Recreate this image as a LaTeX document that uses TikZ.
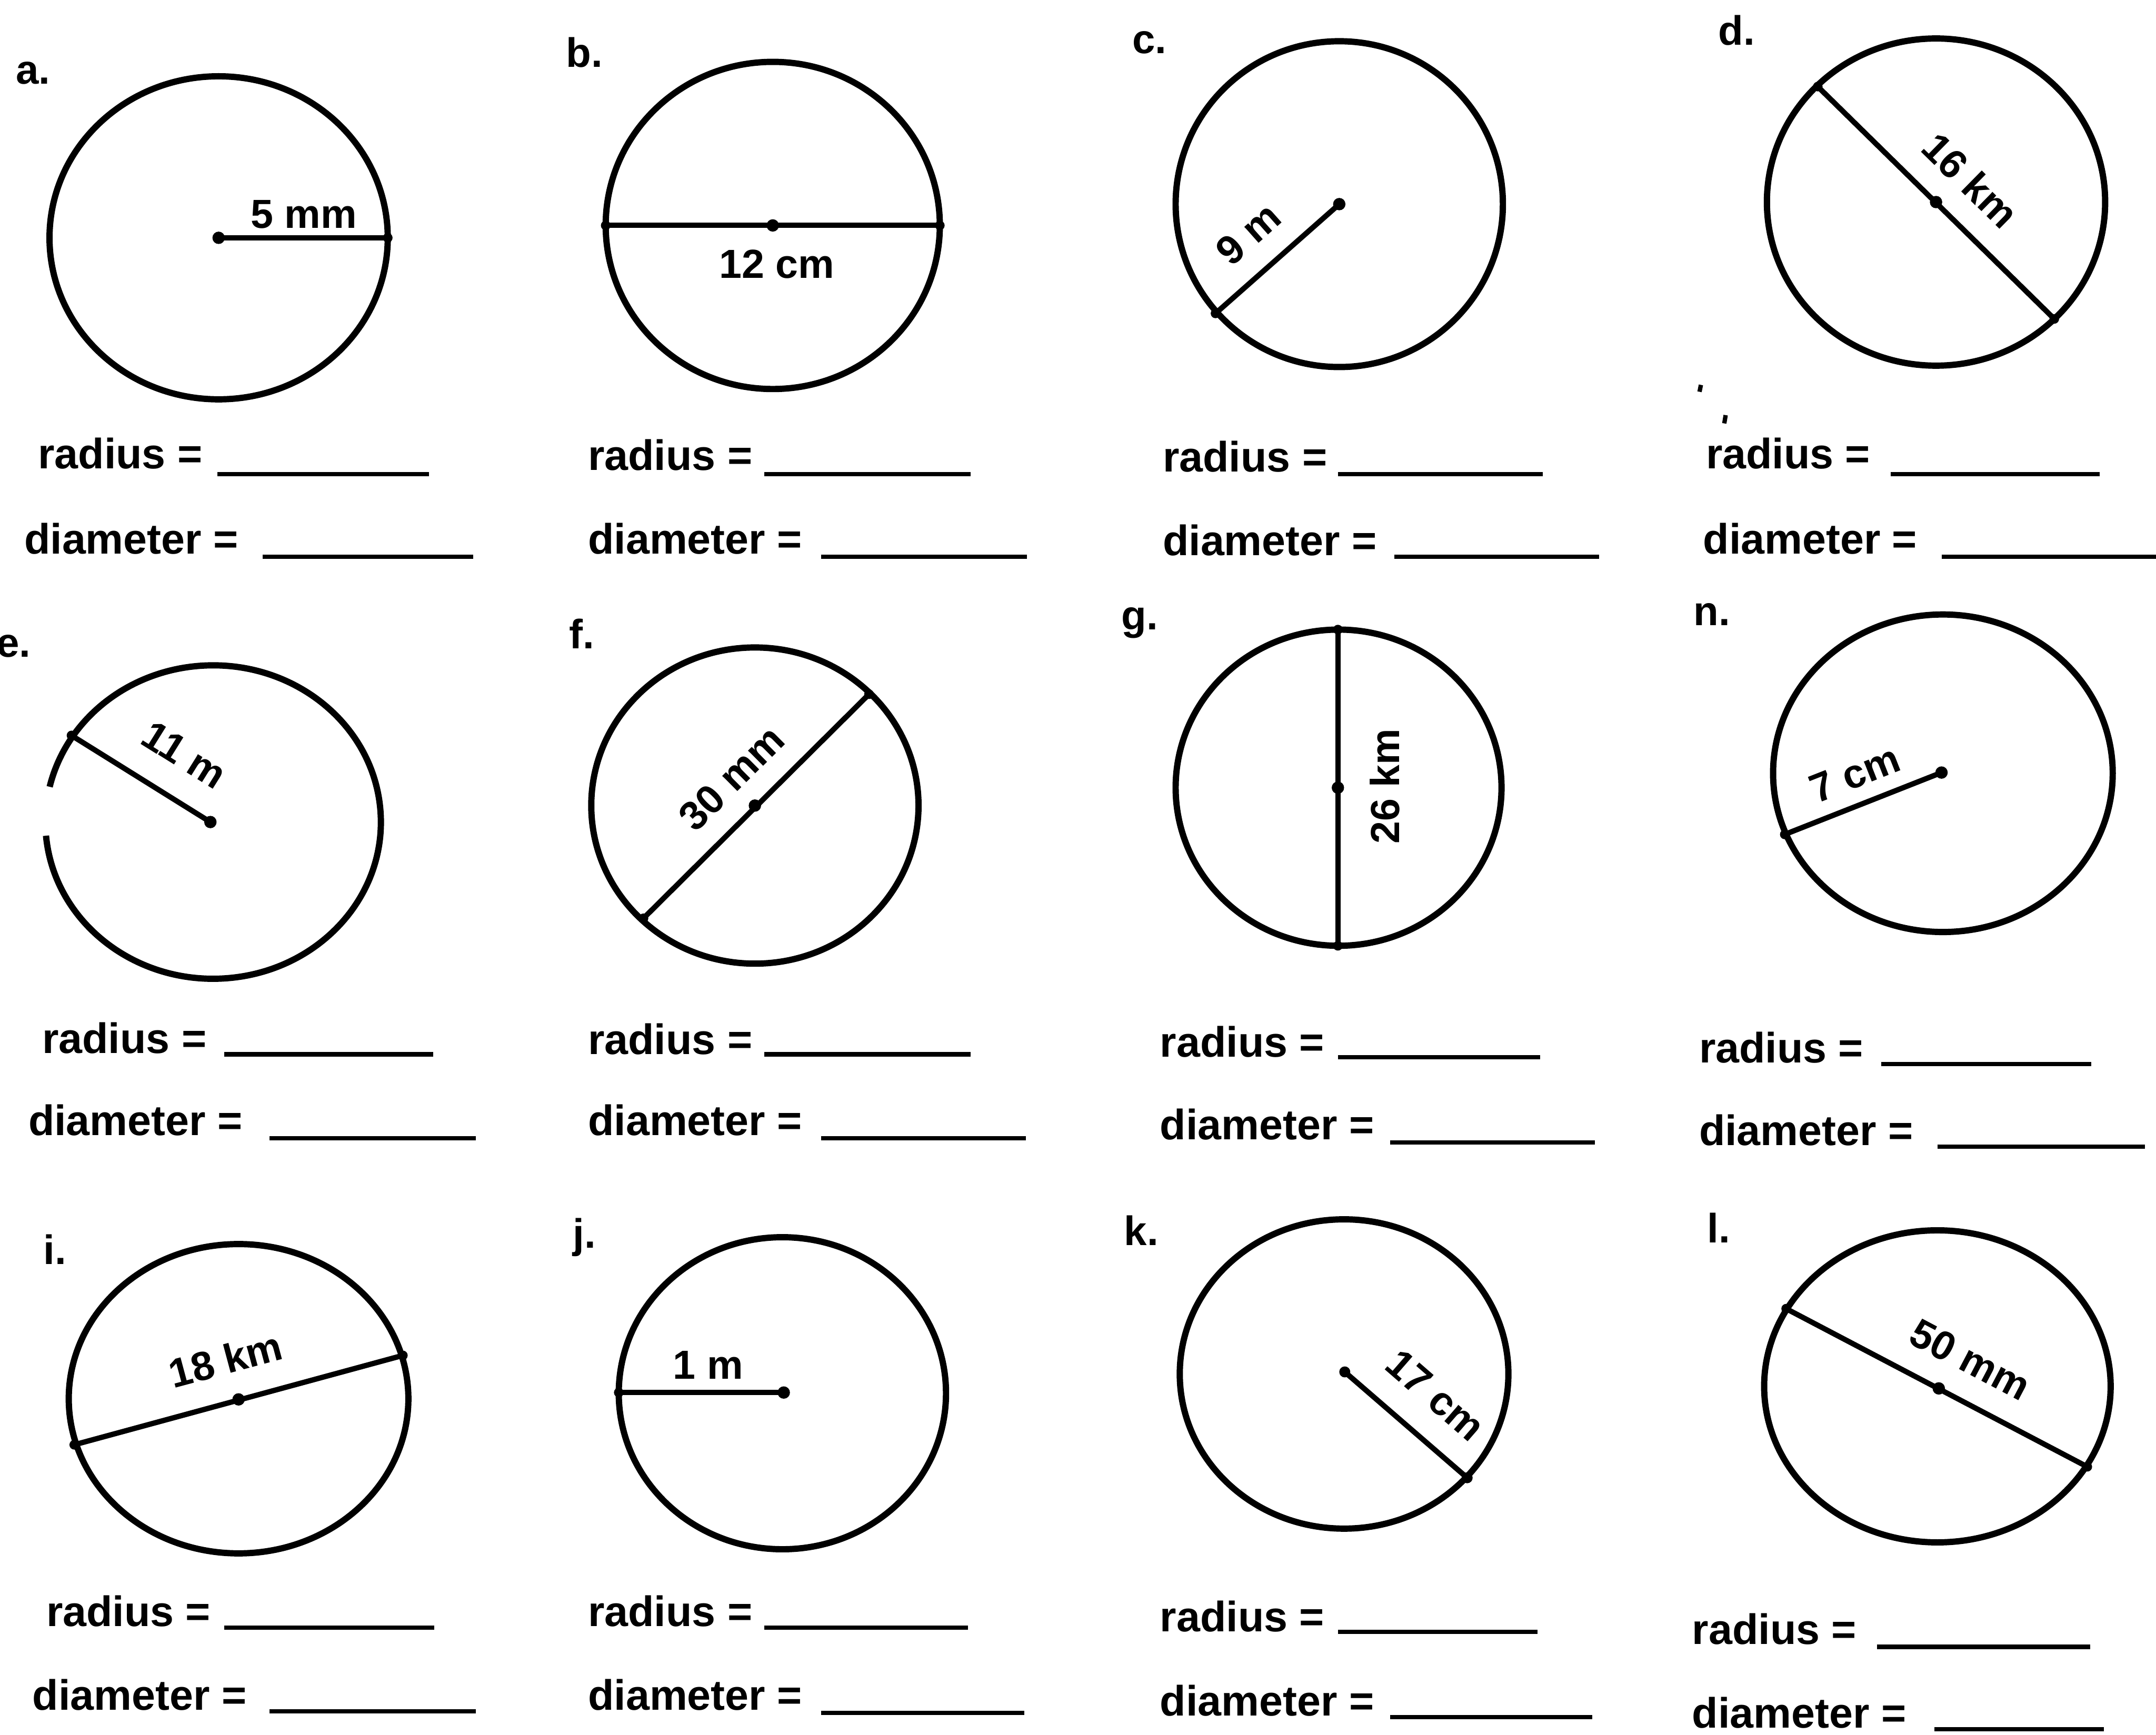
\documentclass[tikz,border=0pt]{standalone}
\usepackage{fontspec}
\setmainfont{Liberation Sans}
\tikzset{
  rim/.style={line width=1.3pt},
  seg/.style={line width=1.1pt},
  blank/.style={line width=0.9pt},
  letter/.style={font=\bfseries\fontsize{8.5}{9}\selectfont, inner sep=0pt},
  len/.style={font=\bfseries\fontsize{8.4}{9}\selectfont, inner sep=0pt},
  ask/.style={font=\bfseries\fontsize{8.8}{10}\selectfont, anchor=west, inner sep=0pt}
}

\begin{document}
\begin{tikzpicture}
\useasboundingbox (0,0) rectangle (15.68,-12.62);

% row 1
\node[letter] (qa) at (0.24,-0.53) {a.};
\draw[rim] (1.59,-1.73) ellipse [x radius=1.23, y radius=1.175];
\coordinate (aC) at (1.59,-1.73);
\coordinate (aE) at (2.82,-1.73);
\draw[seg] (aC) -- (aE);
\fill (aC) circle (0.045) (aE) circle (0.035);
\node[len] (aL) at (2.21,-1.56) {5 mm};

\node[letter] (qb) at (4.25,-0.38) {b.};
\draw[rim] (5.62,-1.64) ellipse [x radius=1.215, y radius=1.19];
\coordinate (bC) at (5.62,-1.64);
\coordinate (bW) at (4.405,-1.64);
\coordinate (bE) at (6.835,-1.64);
\draw[seg] (bW) -- (bE);
\fill (bC) circle (0.045) (bW) circle (0.035) (bE) circle (0.035);
\node[len] (bL) at (5.65,-1.92) {12 cm};

\node[letter] (qc) at (8.36,-0.31) {c.};
\draw[rim] (9.74,-1.485) ellipse [x radius=1.19, y radius=1.185];
\coordinate (cC) at (9.74,-1.485);
\coordinate (cE) at (8.84,-2.28);
\draw[seg] (cC) -- (cE);
\fill (cC) circle (0.045) (cE) circle (0.035);
\node[len, rotate=41.6] (cL) at (9.08,-1.70) {9 m};

\node[letter] (qd) at (12.63,-0.22) {d.};
\draw[rim] (14.08,-1.47) ellipse [x radius=1.23, y radius=1.19];
\coordinate (dC) at (14.08,-1.47);
\coordinate (dN) at (13.22,-0.63);
\coordinate (dS) at (14.94,-2.32);
\draw[seg] (dN) -- (dS);
\fill (dC) circle (0.045) (dN) circle (0.035) (dS) circle (0.035);
\node[len, rotate=-44.5] (dL) at (14.33,-1.31) {16 km};
\draw[line width=0.9pt] (12.37,-2.80) -- (12.36,-2.85);
\draw[line width=0.9pt] (12.55,-3.02) -- (12.54,-3.08);

% row 2
\node[letter] (qe) at (0.10,-4.70) {e.};
\coordinate (eO) at (1.55,-5.98);
\draw[rim, shift={(eO)}] (-175:1.22 and 1.14)
  arc[start angle=-175, end angle=167, x radius=1.22, y radius=1.14];
\coordinate (eC) at (1.53,-5.98);
\coordinate (eE) at (0.52,-5.35);
\draw[seg] (eE) -- (eC);
\fill (eC) circle (0.045) (eE) circle (0.035);
\node[len, rotate=-32] (eL) at (1.34,-5.49) {11 m};

\node[letter] (qf) at (4.23,-4.61) {f.};
\draw[rim] (5.49,-5.86) ellipse [x radius=1.19, y radius=1.15];
\coordinate (fC) at (5.49,-5.86);
\coordinate (fS) at (4.68,-6.68);
\coordinate (fN) at (6.32,-5.05);
\draw[seg] (fS) -- (fN);
\fill (fC) circle (0.045) (fS) circle (0.035) (fN) circle (0.035);
\node[len, rotate=44.8] (fL) at (5.32,-5.66) {30 mm};

\node[letter] (qg) at (8.29,-4.53) {g.};
\draw[rim] (9.735,-5.73) ellipse [x radius=1.185, y radius=1.15];
\coordinate (gC) at (9.73,-5.73);
\coordinate (gN) at (9.73,-4.58);
\coordinate (gS) at (9.73,-6.88);
\draw[seg] (gS) -- (gN);
\fill (gC) circle (0.045) (gN) circle (0.035) (gS) circle (0.035);
\node[len, rotate=90] (gL) at (10.07,-5.72) {26 km};

\node[letter] (qh) at (12.45,-4.47) {n.};
\draw[rim] (14.13,-5.625) ellipse [x radius=1.235, y radius=1.155];
\coordinate (hC) at (14.12,-5.62);
\coordinate (hE) at (12.98,-6.07);
\draw[seg] (hC) -- (hE);
\fill (hC) circle (0.045) (hE) circle (0.035);
\node[len, rotate=21.5] (hL) at (13.49,-5.63) {7 cm};

% row 3
\node[letter] (qi) at (0.40,-9.09) {i.};
\draw[rim] (1.735,-10.175) ellipse [x radius=1.235, y radius=1.125];
\coordinate (iC) at (1.735,-10.18);
\coordinate (iW) at (0.54,-10.51);
\coordinate (iE) at (2.93,-9.86);
\draw[seg] (iW) -- (iE);
\fill (iC) circle (0.045) (iW) circle (0.035) (iE) circle (0.035);
\node[len, rotate=15] (iL) at (1.64,-9.89) {18 km};

\node[letter] (qj) at (4.25,-9.00) {j.};
\draw[rim] (5.69,-10.135) ellipse [x radius=1.19, y radius=1.135];
\coordinate (jC) at (5.70,-10.13);
\coordinate (jE) at (4.50,-10.13);
\draw[seg] (jE) -- (jC);
\fill (jC) circle (0.045) (jE) circle (0.035);
\node[len] (jL) at (5.15,-9.93) {1 m};

\node[letter] (qk) at (8.30,-8.95) {k.};
\draw[rim] (9.775,-9.995) ellipse [x radius=1.195, y radius=1.125];
\coordinate (kC) at (9.78,-9.98);
\coordinate (kE) at (10.67,-10.75);
\draw[seg] (kC) -- (kE);
\fill (kC) circle (0.04) (kE) circle (0.04);
\node[len, rotate=-41] (kL) at (10.44,-10.15) {17 cm};

\node[letter] (ql) at (12.50,-8.93) {l.};
\draw[rim] (14.09,-10.085) ellipse [x radius=1.26, y radius=1.135];
\coordinate (lC) at (14.10,-10.10);
\coordinate (lW) at (12.99,-9.52);
\coordinate (lE) at (15.18,-10.67);
\draw[seg] (lW) -- (lE);
\fill (lC) circle (0.045) (lW) circle (0.035) (lE) circle (0.035);
\node[len, rotate=-27.8] (lL) at (14.33,-9.89) {50 mm};

% answer lines
\foreach \nm/\x/\y/\ua/\ub/\uy in {
  ra/0.27/3.30/1.58/3.12/3.45, rb/4.27/3.31/5.56/7.06/3.45,
  rc/8.45/3.32/9.73/11.22/3.45, rd/12.40/3.30/13.75/15.27/3.45,
  re/0.30/7.55/1.63/3.15/7.67, rf/4.27/7.56/5.56/7.06/7.67,
  rg/8.43/7.58/9.73/11.20/7.69, rh/12.35/7.62/13.68/15.21/7.74,
  ri/0.33/11.72/1.63/3.16/11.84, rj/4.27/11.72/5.56/7.04/11.84,
  rk/8.43/11.76/9.73/11.18/11.87, rl/12.30/11.85/13.65/15.20/11.98}
{
  \node[ask] (\nm) at (\x,-\y) {radius =};
  \draw[blank] (\ua,-\uy) -- (\ub,-\uy);
}
\foreach \nm/\x/\y/\ua/\ub/\uy in {
  da/0.17/3.92/1.91/3.44/4.05, db/4.27/3.92/5.97/7.47/4.05,
  dc/8.45/3.93/10.14/11.63/4.05, dd/12.38/3.92/14.12/15.68/4.05,
  de/0.20/8.15/1.96/3.46/8.28, df/4.27/8.15/5.97/7.46/8.28,
  dg/8.43/8.18/10.11/11.60/8.31, dh/12.35/8.22/14.09/15.60/8.34,
  di/0.23/12.33/1.96/3.46/12.45, dj/4.27/12.33/5.97/7.45/12.46,
  dk/8.43/12.37/10.11/11.58/12.49, dl/12.30/12.46/14.07/15.30/12.58}
{
  \node[ask] (\nm) at (\x,-\y) {diameter =};
  \draw[blank] (\ua,-\uy) -- (\ub,-\uy);
}
\end{tikzpicture}
\end{document}
